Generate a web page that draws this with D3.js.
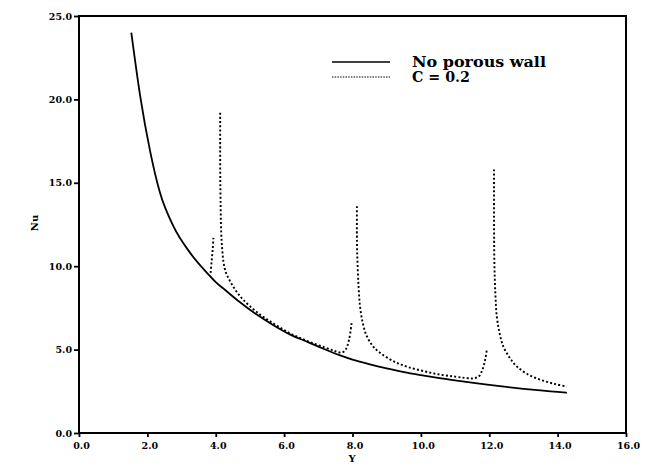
<!DOCTYPE html>
<html>
<head>
<meta charset="utf-8">
<script src="https://cdn.jsdelivr.net/npm/d3@7"></script>
<style>
  html, body { margin: 0; padding: 0; background: #fff; }
  svg { display: block; }
  text { font-family: "DejaVu Serif", serif; font-weight: bold; fill: #000; }
</style>
</head>
<body>
<svg id="chart" width="649" height="464"></svg>
<script>
// Axis ticks
const xTicks = [0, 2, 4, 6, 8, 10, 12, 14, 16];
const yTicks = [0, 5, 10, 15, 20, 25];

// Nusselt number without porous wall
const solidY  = [1.53, 1.79, 2.08, 2.37, 2.76, 3.25, 3.79, 4.0, 4.32, 4.7, 5.2, 5.7, 6.18, 6.7, 7.15, 7.64, 8.0, 8.51, 9.0, 9.59, 10.0, 10.5, 11.0, 11.54, 12.0, 12.5, 13.0, 13.5, 14.0, 14.27];
const solidNu = [24.0, 20.2, 16.9, 14.4, 12.4, 10.8, 9.5, 9.05, 8.5, 7.85, 7.1, 6.45, 5.9, 5.45, 5.05, 4.65, 4.4, 4.12, 3.88, 3.62, 3.47, 3.3, 3.15, 3.0, 2.88, 2.76, 2.65, 2.55, 2.46, 2.41];

// Nusselt number with porous wall, C = 0.2 (null marks a break in the curve)
const porousY  = [3.85, 3.88, 3.91, 3.93, null,
  4.13, 4.13, 4.14, 4.16, 4.19, 4.23, 4.3, 4.42, 4.6, 4.8, 5.2, 5.7, 6.2, 6.7, 7.2, 7.5, 7.69, 7.8, 7.9, 7.98, null,
  8.13, 8.13, 8.15, 8.18, 8.22, 8.3, 8.42, 8.6, 8.81, 9.2, 9.6, 10.1, 10.56, 11.0, 11.3, 11.54, 11.7, 11.8, 11.88, 11.93, null,
  12.14, 12.14, 12.15, 12.18, 12.22, 12.3, 12.41, 12.6, 12.8, 13.1, 13.49, 13.9, 14.27];
const porousNu = [9.6, 10.3, 11.0, 11.7, null,
  19.2, 16.0, 14.0, 12.0, 11.0, 10.2, 9.6, 9.1, 8.5, 8.0, 7.25, 6.55, 5.95, 5.5, 5.12, 4.9, 4.82, 5.0, 5.6, 6.7, null,
  13.6, 11.5, 10.0, 8.7, 7.6, 6.6, 5.8, 5.2, 4.8, 4.3, 3.97, 3.7, 3.5, 3.38, 3.3, 3.28, 3.4, 3.8, 4.4, 5.0, null,
  15.8, 13.0, 10.2, 8.3, 7.0, 6.0, 5.2, 4.5, 4.0, 3.55, 3.2, 2.95, 2.78];

const legendLabels = ["No porous wall", "C = 0.2"];

const svg = d3.select("#chart");
const x = d3.scaleLinear().domain([0, 16]).range([79, 626]);
const y = d3.scaleLinear().domain([0, 25]).range([433, 16]);

// Frame
svg.append("rect")
  .attr("x", x(0)).attr("y", y(25))
  .attr("width", x(16) - x(0)).attr("height", y(0) - y(25))
  .attr("fill", "none").attr("stroke", "#000").attr("stroke-width", 2);

// Axes
const fmt = d3.format(".1f");
const gx = svg.append("g").attr("transform", `translate(0,${y(0)})`)
  .call(d3.axisBottom(x).tickValues(xTicks).tickFormat(fmt).tickSize(4).tickPadding(5));
const gy = svg.append("g").attr("transform", `translate(${x(0)},0)`)
  .call(d3.axisLeft(y).tickValues(yTicks).tickFormat(fmt).tickSize(5).tickPadding(2));
[gx, gy].forEach(g => {
  g.select(".domain").remove();
  g.selectAll(".tick line").attr("stroke", "#000").attr("stroke-width", 1.8);
  g.selectAll(".tick text").style("font-size", "9.5px").style("font-family", "'DejaVu Serif', serif").style("font-weight", "bold");
});
gx.selectAll(".tick text").attr("dx", 2);

// Axis titles
svg.append("text").attr("x", 352).attr("y", 462).attr("text-anchor", "middle")
  .style("font-size", "10px").text("Y");
svg.append("text").attr("transform", "translate(38,223) rotate(-90)").attr("text-anchor", "middle")
  .style("font-size", "10px").text("Nu");

// Curves
const solidData = solidY.map((v, i) => [v, solidNu[i]]);
const porousData = porousY.map((v, i) => [v, porousNu[i]]);
const line = d3.line()
  .defined(d => d[0] !== null && d[1] !== null)
  .x(d => x(d[0])).y(d => y(d[1]))
  .curve(d3.curveMonotoneX);
const lineP = d3.line()
  .defined(d => d[0] !== null && d[1] !== null)
  .x(d => x(d[0])).y(d => y(d[1]))
  .curve(d3.curveCatmullRom.alpha(0.5));

svg.append("path").datum(solidData).attr("d", line)
  .attr("fill", "none").attr("stroke", "#000").attr("stroke-width", 1.8);
svg.append("path").datum(porousData).attr("d", lineP)
  .attr("fill", "none").attr("stroke", "#000").attr("stroke-width", 1.9)
  .attr("stroke-dasharray", "2,2.2");

// Legend
const leg = svg.append("g");
leg.append("line").attr("x1", 332).attr("x2", 390).attr("y1", 62).attr("y2", 62)
  .attr("stroke", "#000").attr("stroke-width", 1.6);
leg.append("line").attr("x1", 332).attr("x2", 390).attr("y1", 77).attr("y2", 77)
  .attr("stroke", "#000").attr("stroke-width", 1.2).attr("stroke-dasharray", "1.5,1.2");
const legWidths = [134, 58];
leg.selectAll("text.lab").data(legendLabels).join("text")
  .attr("class", "lab")
  .attr("x", 412).attr("y", (d, i) => 67 + i * 15)
  .attr("textLength", (d, i) => legWidths[i])
  .attr("lengthAdjust", "spacingAndGlyphs")
  .style("font-size", "14px").text(d => d);
</script>
</body>
</html>
